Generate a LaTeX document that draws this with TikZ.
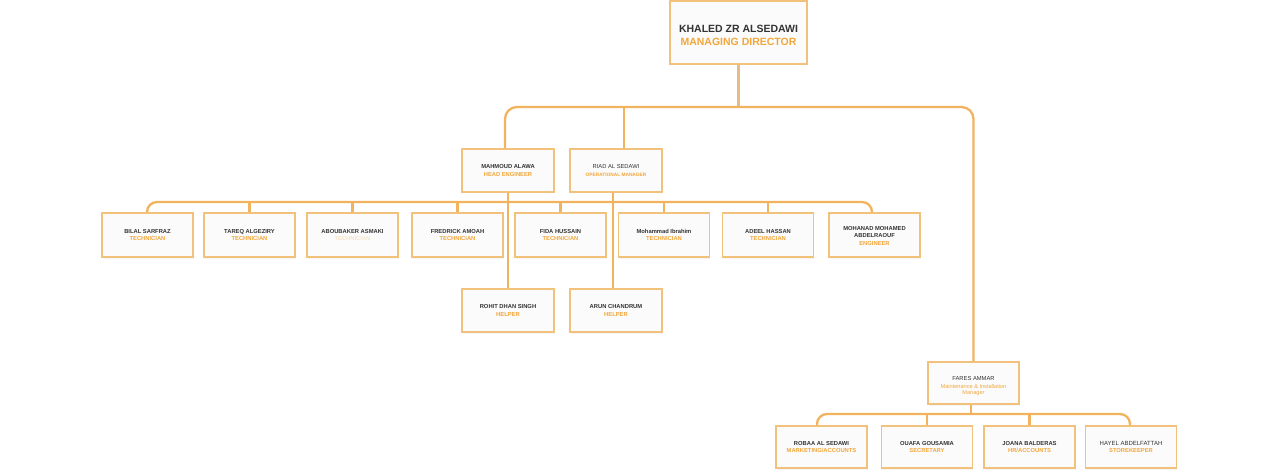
\documentclass[tikz,border=0pt]{standalone}
\usepackage{fontspec}
\setmainfont{Liberation Sans}
\usetikzlibrary{shadows}
\definecolor{linec}{HTML}{F2B35E}
\definecolor{stemc}{HTML}{E6BC86}
\definecolor{boxb}{HTML}{F2C27C}
\definecolor{boxf}{HTML}{FBFBFC}
\definecolor{namec}{HTML}{333333}
\definecolor{rolec}{HTML}{F2A63A}
\definecolor{faintc}{HTML}{F7E3C6}
\newcommand{\nm}[1]{{\color{namec}\bfseries #1}}
\newcommand{\rl}[1]{{\color{rolec}\bfseries #1}}
\newcommand{\fr}[1]{{\color{rolec}\fontsize{5.6}{6}\selectfont #1}}
\begin{document}
\begin{tikzpicture}[x=1pt,y=-1pt,
  card/.style={draw=boxb, fill=boxf, line width=1.1pt, minimum width=91pt, minimum height=44pt,
    inner sep=0pt, align=center, font=\fontsize{5.8}{7.8}\selectfont,
    drop shadow={opacity=0.08, shadow xshift=0.5pt, shadow yshift=-1.5pt}},
  conn/.style={draw=linec, line width=2.3pt},
  stem/.style={draw=stemc, line width=2.5pt}]
\useasboundingbox (0,0) rectangle (1277,473);
\fill[white] (0,0) rectangle (1277,473);

% top
\node[card, minimum width=137pt, minimum height=63pt, font=\fontsize{10.5}{13}\selectfont] (top) at (738.5,32.5)
  {\rule{0pt}{14pt}\nm{KHALED ZR ALSEDAWI}\\ \rl{MANAGING DIRECTOR}};

% second level
\node[card, minimum width=92pt, minimum height=43pt] (mah) at (508,170.5)
  {\nm{MAHMOUD ALAWA}\\ \rl{HEAD ENGINEER}};
\node[card, minimum width=92pt, minimum height=43pt] (riad) at (616,170.5)
  {{\color{namec}RIAD AL SEDAWI}\\[-0.5pt]
   {\color{rolec}\bfseries\fontsize{4.8}{6}\selectfont OPERATIONAL MANAGER}};
\node[card, minimum height=42pt] (fares) at (973.5,383)
  {\rule{0pt}{10pt}{\color{namec}FARES AMMAR}\\[0.5pt]
   \fr{Maintenance \& Installation}\\[-1.8pt] \fr{Manager}};

% technicians
\node[card] (bilal) at (147.5,235) {\nm{BILAL SARFRAZ}\\ \rl{TECHNICIAN}};
\node[card] (tareq) at (249.5,235) {\nm{TAREQ ALGEZIRY}\\ \rl{TECHNICIAN}};
\node[card] (abou) at (352.5,235) {\nm{ABOUBAKER ASMAKI}\\ {\color{faintc}\bfseries TECHNICIAN}};
\node[card] (fred) at (457.5,235) {\nm{FREDRICK AMOAH}\\ \rl{TECHNICIAN}};
\node[card] (fida) at (560.5,235) {\nm{FIDA HUSSAIN}\\ \rl{TECHNICIAN}};
\node[card] (moh) at (664,235) {\nm{Mohammad Ibrahim}\\ \rl{TECHNICIAN}};
\node[card] (adeel) at (768,235) {\nm{ADEEL HASSAN}\\ \rl{TECHNICIAN}};
\node[card, font=\fontsize{5.8}{7.4}\selectfont] (mohanad) at (874.5,235) {\rule{0pt}{6pt}\nm{MOHANAD MOHAMED}\\ \nm{ABDELRAOUF}\\ \rl{ENGINEER}};

% helpers
\node[card, minimum width=92pt, minimum height=43pt] (rohit) at (508,310.5) {\nm{ROHIT DHAN SINGH}\\ \rl{HELPER}};
\node[card, minimum width=92pt, minimum height=43pt] (arun) at (616,310.5) {\nm{ARUN CHANDRUM}\\ \rl{HELPER}};

% bottom row
\node[card, minimum height=42pt] (robaa) at (821.5,447) {\nm{ROBAA AL SEDAWI}\\ \rl{MARKETING/ACCOUNTS}};
\node[card, minimum height=42pt] (ouafa) at (927,447) {\nm{OUAFA GOUSAMIA}\\ \rl{SECRETARY}};
\node[card, minimum height=42pt] (joana) at (1029.5,447) {\nm{JOANA BALDERAS}\\ \rl{HR/ACCOUNTS}};
\node[card, minimum height=42pt] (hayel) at (1131,447) {{\color{namec}\fontsize{6}{7.8}\selectfont HAYEL ABDELFATTAH}\\ \rl{STOREKEEPER}};

% bus coordinates
\coordinate (busA) at (739,107);
\coordinate (busT) at (508,202);
\coordinate (busB) at (971,414);

% connectors: top level
\draw[stem] (top.south) -- (top.south |- busA);
\draw[conn, rounded corners=12pt] ([xshift=-3pt]mah.north) |- (busA) -| (fares.north);
\draw[conn] ([xshift=8pt]riad.north) -- ([xshift=8pt]riad.north |- busA);

% helpers lines
\draw[conn] (mah.south) -- (rohit.north);
\draw[conn] ([xshift=-3pt]riad.south) -- ([xshift=-3pt]arun.north);

% technicians bus
\draw[conn, rounded corners=10pt] ([xshift=-0.5pt]bilal.north) |- (busT) -| ([xshift=-2.5pt]mohanad.north);
\foreach \n in {tareq,abou,fred,fida,moh,adeel}
  \draw[conn] (\n.north) -- (\n.north |- busT);

% bottom bus
\draw[conn] ([xshift=-2.5pt]fares.south) -- ([xshift=-2.5pt]fares.south |- busB);
\draw[conn, rounded corners=10pt] ([xshift=-4.5pt]robaa.north) |- (busB) -| ([xshift=-1pt]hayel.north);
\draw[conn] (ouafa.north) -- (ouafa.north |- busB);
\draw[conn] (joana.north) -- (joana.north |- busB);
\end{tikzpicture}
\end{document}
